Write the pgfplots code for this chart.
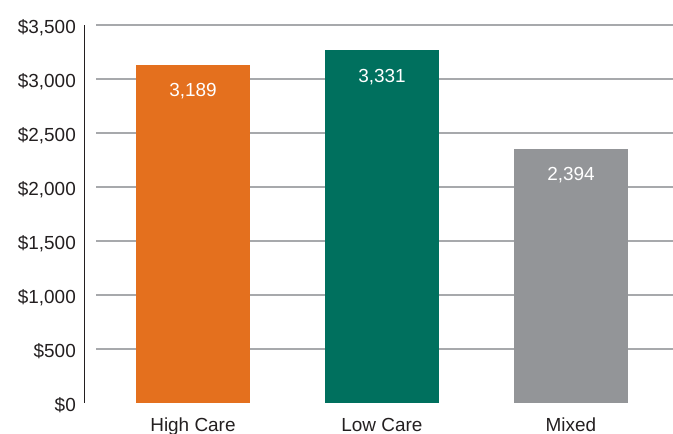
\documentclass[border=0pt]{standalone}
\usepackage{pgfplots}
\pgfplotsset{compat=1.18}
\usepackage{fontspec}
\setmainfont{Liberation Sans}
\definecolor{orangeC}{HTML}{E4701E}
\definecolor{tealC}{HTML}{00705E}
\definecolor{grayC}{HTML}{939598}
\definecolor{gridC}{HTML}{A7A9AC}
\definecolor{txtC}{HTML}{231F20}
\begin{document}
\begin{tikzpicture}
\useasboundingbox (0,0) rectangle (673bp,434bp);
\begin{axis}[
  at={(96bp,31bp)}, anchor=south west,
  scale only axis, width=577bp, height=378bp,
  xmin=-0.513, xmax=2.540, ymin=0, ymax=3500,
  axis line style={draw=none},
  major tick length=0pt,
  xtick={0,1,2},
  xticklabels={High Care,Low Care,Mixed},
  ytick={500,1000,1500,2000,2500,3000,3500},
  yticklabels={{\$500},{\$1,000},{\$1,500},{\$2,000},{\$2,500},{\$3,000},{\$3,500}},
  extra y ticks={0},
  extra y tick labels={{\$0}},
  extra y tick style={grid=none},
  ymajorgrids,
  major grid style={gridC, line width=1.3bp},
  every tick label/.append style={font=\fontsize{19}{22}\selectfont, text=txtC},
  yticklabel style={anchor=base east, inner sep=0pt, xshift=-20bp, yshift=-8.5bp},
  xticklabel style={anchor=base, inner sep=0pt, yshift=-28bp},
  ybar, bar width=114bp, bar shift=0pt,
  point meta=explicit symbolic,
  nodes near coords={\pgfplotspointmeta},
  every node near coord/.style={anchor=base, yshift=-32bp, text=white, inner sep=0pt, font=\fontsize{19}{22}\selectfont},
  clip=false,
]
\addplot[fill=orangeC, draw=none] coordinates {(0,3130) [3,189]};
\addplot[fill=tealC, draw=none] coordinates {(1,3268) [3,331]};
\addplot[fill=grayC, draw=none] coordinates {(2,2352) [2,394]};
\end{axis}
\draw[txtC, line width=1.3bp] (84.5bp,31bp) -- (84.5bp,409bp);
\end{tikzpicture}
\end{document}
